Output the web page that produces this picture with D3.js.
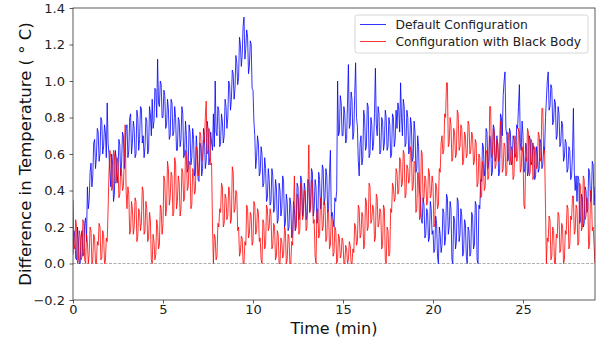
<!DOCTYPE html>
<html>
<head>
<meta charset="utf-8">
<script src="https://cdn.jsdelivr.net/npm/d3@7"></script>
<style>
  body { margin: 0; background: #fff; }
  svg { font-family: "DejaVu Sans", sans-serif; }
</style>
</head>
<body>
<svg id="chart" width="608" height="338"></svg>
<script>
// samples every 0.05 min (20 per minute)
const sampleStep = 0.05;

const defaultConfig = [
  0.05, 0.18, 0.15, 0.03, 0.02, 0.2, 0.12, 0.0, 0.0, 0.14,
  0.18, 0.04, 0.06, 0.22, 0.25, 0.12, 0.42, 0.3, 0.35, 0.5,
  0.55, 0.42, 0.48, 0.66, 0.68, 0.52, 0.58, 0.74, 0.72, 0.56,
  0.6, 0.8, 0.78, 0.6, 0.64, 0.76, 0.72, 0.58, 0.88, 0.66,
  0.6, 0.5, 0.42, 0.6, 0.55, 0.34, 0.38, 0.62, 0.58, 0.44,
  0.5, 0.68, 0.65, 0.48, 0.55, 0.72, 0.7, 0.52, 0.6, 0.74,
  0.76, 0.58, 0.62, 0.8, 0.82, 0.6, 0.66, 0.78, 0.74, 0.58,
  0.6, 0.84, 0.8, 0.62, 0.68, 0.86, 0.85, 0.66, 0.7, 0.58,
  0.64, 0.8, 0.78, 0.6, 0.62, 0.86, 0.82, 0.7, 0.9, 0.74,
  0.78, 0.96, 0.95, 0.8, 1.12, 0.88, 0.86, 1.0, 0.98, 0.8,
  0.8, 0.95, 0.92, 0.74, 0.76, 0.9, 0.85, 0.68, 0.7, 0.9,
  0.88, 0.7, 0.72, 0.86, 0.8, 0.62, 0.62, 0.8, 0.78, 0.64,
  0.68, 0.86, 0.82, 0.58, 0.6, 0.78, 0.7, 0.5, 0.52, 0.76,
  0.72, 0.54, 0.58, 0.74, 0.68, 0.48, 0.5, 0.7, 0.62, 0.46,
  0.45, 0.66, 0.64, 0.48, 0.52, 0.74, 0.7, 0.52, 0.56, 0.78,
  0.74, 0.54, 0.58, 0.72, 0.66, 0.62, 0.82, 0.64, 1.0, 0.72,
  0.7, 0.86, 0.84, 0.64, 0.66, 0.82, 0.78, 0.66, 0.7, 0.9,
  0.86, 0.74, 0.8, 1.0, 0.98, 0.84, 0.9, 1.06, 1.04, 0.9,
  0.96, 1.14, 1.1, 0.98, 1.02, 1.24, 1.2, 1.08, 1.14, 1.3,
  1.35, 1.12, 1.18, 1.28, 1.24, 1.04, 1.08, 1.22, 1.2, 0.96,
  0.95, 0.78, 0.7, 0.52, 0.58, 0.7, 0.66, 0.48, 0.5, 0.64,
  0.6, 0.42, 0.44, 0.58, 0.52, 0.34, 0.36, 0.52, 0.46, 0.32,
  0.34, 0.52, 0.48, 0.28, 0.3, 0.46, 0.42, 0.22, 0.24, 0.44,
  0.4, 0.26, 0.3, 0.48, 0.45, 0.2, 0.22, 0.38, 0.34, 0.18,
  0.2, 0.36, 0.32, 0.14, 0.16, 0.34, 0.3, 0.18, 0.22, 0.44,
  0.42, 0.24, 0.28, 0.48, 0.46, 0.26, 0.3, 0.44, 0.4, 0.24,
  0.26, 0.46, 0.44, 0.28, 0.32, 0.52, 0.5, 0.26, 0.3, 0.46,
  0.42, 0.22, 0.24, 0.5, 0.46, 0.3, 0.34, 0.54, 0.52, 0.32,
  0.36, 0.52, 0.48, 0.28, 0.3, 0.5, 0.62, 0.26, 0.28, 0.24,
  0.2, 0.36, 0.34, 0.4, 1.0, 0.7, 0.72, 0.92, 0.88, 0.7,
  0.7, 0.86, 0.82, 0.66, 0.68, 0.88, 1.09, 0.74, 0.76, 0.94,
  0.9, 0.68, 0.72, 0.92, 1.1, 0.8, 0.75, 0.56, 0.48, 0.66,
  0.7, 0.54, 0.58, 0.84, 0.8, 0.62, 0.64, 0.88, 0.86, 0.58,
  0.6, 0.8, 0.76, 0.62, 0.66, 0.82, 1.07, 0.76, 0.7, 0.86,
  0.82, 0.6, 0.62, 0.8, 0.78, 0.62, 0.66, 0.84, 0.8, 0.62,
  0.64, 0.8, 0.76, 0.58, 0.6, 0.82, 0.8, 0.64, 0.68, 0.84,
  0.74, 0.88, 0.84, 0.72, 0.99, 0.8, 0.7, 0.9, 0.86, 0.64,
  0.66, 0.84, 0.8, 0.6, 0.62, 0.8, 0.76, 0.56, 0.58, 0.78,
  0.72, 0.5, 0.52, 0.7, 0.64, 0.4, 0.36, 0.24, 0.22, 0.36,
  0.32, 0.14, 0.16, 0.3, 0.28, 0.12, 0.14, 0.34, 0.3, 0.16,
  0.18, 0.06, 0.08, 0.26, 0.22, 0.04, 0.0, 0.2, 0.16, 0.06,
  0.1, 0.3, 0.28, 0.1, 0.14, 0.38, 0.36, 0.16, 0.2, 0.34,
  0.3, 0.02, 0.0, 0.26, 0.24, 0.08, 0.12, 0.36, 0.34, 0.12,
  0.16, 0.3, 0.26, 0.04, 0.06, 0.24, 0.22, 0.04, 0.0, 0.2,
  0.18, 0.04, 0.06, 0.28, 0.26, 0.08, 0.1, 0.34, 0.32, 0.02,
  0.0, 0.32, 0.3, 0.46, 0.45, 0.66, 0.64, 0.48, 0.52, 0.74,
  0.72, 0.52, 0.56, 0.7, 0.68, 0.48, 0.5, 0.76, 0.74, 0.56,
  0.58, 0.7, 0.64, 0.48, 0.5, 0.82, 0.8, 0.7, 0.92, 1.0,
  1.05, 0.74, 0.7, 0.56, 0.58, 0.74, 0.72, 0.54, 0.56, 0.7,
  0.68, 0.58, 0.6, 0.76, 0.74, 0.86, 0.98, 0.66, 0.62, 0.78,
  0.7, 0.5, 0.52, 0.66, 0.64, 0.48, 0.5, 0.7, 0.68, 0.54,
  0.56, 0.66, 0.62, 0.46, 0.48, 0.64, 0.6, 0.5, 0.52, 0.68,
  0.66, 0.52, 0.54, 0.64, 0.62, 0.8, 0.9, 1.0, 1.05, 0.84,
  0.86, 0.98, 0.96, 0.76, 0.78, 0.9, 0.88, 0.68, 0.7, 0.86,
  0.82, 0.64, 0.66, 0.78, 0.76, 0.56, 0.58, 0.68, 0.66, 0.5,
  0.52, 0.64, 0.62, 0.46, 0.48, 0.6, 0.85, 0.5, 0.4, 0.48,
  0.34, 0.48, 0.46, 0.22, 0.24, 0.38, 0.36, 0.2, 0.22, 0.42,
  0.4, 0.28, 0.3, 0.52, 0.5, 0.34, 0.36, 0.56, 0.54, 0.32,
  0.42
];

const blackBody = [
  0.35, 0.1, 0.08, 0.24, 0.2, 0.0, 0.02, 0.18, 0.15, 0.02,
  0.04, 0.24, 0.22, 0.02, 0.0, 0.16, 0.12, 0.0, 0.05, 0.2,
  0.18, 0.0, 0.02, 0.16, 0.14, 0.0, 0.0, 0.12, 0.1, 0.22,
  0.2, 0.02, 0.03, 0.18, 0.16, 0.0, 0.01, 0.14, 0.12, 0.3,
  0.5, 0.62, 0.58, 0.4, 0.42, 0.62, 0.6, 0.44, 0.45, 0.58,
  0.55, 0.36, 0.38, 0.52, 0.5, 0.4, 0.42, 0.58, 0.76, 0.4,
  0.3, 0.42, 0.38, 0.16, 0.18, 0.34, 0.3, 0.16, 0.2, 0.36,
  0.34, 0.12, 0.15, 0.3, 0.28, 0.18, 0.22, 0.42, 0.4, 0.16,
  0.18, 0.34, 0.3, 0.12, 0.14, 0.28, 0.24, 0.02, 0.0, 0.16,
  0.12, 0.02, 0.05, 0.24, 0.2, 0.08, 0.1, 0.32, 0.3, 0.16,
  0.22, 0.48, 0.45, 0.26, 0.3, 0.56, 0.52, 0.32, 0.36, 0.5,
  0.48, 0.26, 0.28, 0.58, 0.55, 0.3, 0.34, 0.48, 0.44, 0.26,
  0.3, 0.52, 0.5, 0.34, 0.36, 0.62, 0.6, 0.4, 0.42, 0.56,
  0.54, 0.3, 0.32, 0.52, 0.5, 0.38, 0.4, 0.64, 0.62, 0.48,
  0.52, 0.72, 0.7, 0.56, 0.58, 0.68, 0.66, 0.8, 0.89, 0.6,
  0.62, 0.74, 0.72, 0.54, 0.55, 0.2, 0.0, 0.16, 0.14, 0.02,
  0.04, 0.22, 0.2, 0.3, 0.28, 0.44, 0.42, 0.2, 0.22, 0.38,
  0.36, 0.24, 0.26, 0.42, 0.4, 0.22, 0.24, 0.53, 0.5, 0.28,
  0.3, 0.4, 0.38, 0.18, 0.2, 0.04, 0.06, 0.15, 0.14, 0.0,
  0.0, 0.12, 0.1, 0.32, 0.3, 0.14, 0.16, 0.28, 0.26, 0.1,
  0.12, 0.34, 0.32, 0.16, 0.18, 0.3, 0.28, 0.12, 0.14, 0.02,
  0.0, 0.24, 0.22, 0.08, 0.1, 0.32, 0.3, 0.18, 0.2, 0.3,
  0.26, 0.08, 0.1, 0.22, 0.2, 0.02, 0.04, 0.18, 0.16, 0.0,
  0.0, 0.14, 0.12, 0.03, 0.05, 0.2, 0.18, 0.0, 0.02, 0.16,
  0.14, 0.0, 0.0, 0.12, 0.1, 0.3, 0.48, 0.18, 0.2, 0.38,
  0.36, 0.16, 0.18, 0.44, 0.42, 0.24, 0.26, 0.4, 0.38, 0.18,
  0.2, 0.4, 0.65, 0.28, 0.3, 0.46, 0.44, 0.22, 0.24, 0.04,
  0.0, 0.28, 0.3, 0.14, 0.16, 0.36, 0.34, 0.18, 0.2, 0.34,
  0.32, 0.12, 0.14, 0.3, 0.28, 0.08, 0.1, 0.26, 0.24, 0.04,
  0.06, 0.2, 0.18, 0.0, 0.02, 0.16, 0.14, 0.03, 0.05, 0.14,
  0.12, 0.0, 0.0, 0.1, 0.08, 0.0, 0.02, 0.12, 0.1, 0.0,
  0.0, 0.08, 0.06, 0.22, 0.2, 0.1, 0.12, 0.32, 0.3, 0.14,
  0.16, 0.28, 0.26, 0.08, 0.1, 0.36, 0.34, 0.18, 0.2, 0.44,
  0.42, 0.22, 0.24, 0.32, 0.3, 0.12, 0.14, 0.38, 0.36, 0.2,
  0.22, 0.3, 0.28, 0.08, 0.1, 0.32, 0.3, 0.02, 0.0, 0.2,
  0.18, 0.04, 0.06, 0.3, 0.28, 0.44, 0.42, 0.34, 0.36, 0.52,
  0.5, 0.38, 0.4, 0.58, 0.56, 0.42, 0.44, 0.62, 0.6, 0.36,
  0.38, 0.54, 0.52, 0.44, 0.46, 0.64, 0.62, 0.4, 0.42, 0.56,
  0.55, 0.28, 0.3, 0.5, 0.48, 0.24, 0.26, 0.62, 0.6, 0.34,
  0.36, 0.48, 0.46, 0.32, 0.34, 0.52, 0.5, 0.36, 0.38, 0.48,
  0.44, 0.2, 0.22, 0.44, 0.42, 0.3, 0.32, 0.52, 0.5, 0.66,
  0.7, 0.6, 0.62, 0.82, 0.8, 0.99, 0.99, 0.64, 0.66, 0.8,
  0.76, 0.56, 0.58, 0.74, 0.72, 0.58, 0.6, 0.84, 0.82, 0.62,
  0.64, 0.76, 0.74, 0.54, 0.56, 0.72, 0.7, 0.58, 0.6, 0.78,
  0.76, 0.6, 0.62, 0.72, 0.7, 0.54, 0.56, 0.68, 0.66, 0.42,
  0.44, 0.6, 0.58, 0.36, 0.37, 0.56, 0.54, 0.4, 0.42, 0.62,
  0.6, 0.46, 0.48, 0.86, 0.86, 0.58, 0.6, 0.74, 0.72, 0.52,
  0.54, 0.68, 0.66, 0.56, 0.58, 0.78, 0.76, 0.5, 0.52, 0.66,
  0.64, 0.48, 0.5, 0.72, 0.7, 0.54, 0.56, 0.64, 0.62, 0.46,
  0.48, 0.7, 0.68, 0.56, 0.58, 0.74, 0.72, 0.5, 0.52, 0.64,
  0.6, 0.32, 0.3, 0.58, 0.56, 0.74, 0.72, 0.48, 0.5, 0.68,
  0.66, 0.46, 0.48, 0.64, 0.62, 0.52, 0.54, 0.72, 0.7, 0.56,
  0.58, 0.85, 0.85, 0.6, 0.62, 0.3, 0.0, 0.14, 0.12, 0.26,
  0.24, 0.02, 0.04, 0.2, 0.18, 0.0, 0.0, 0.16, 0.14, 0.28,
  0.26, 0.06, 0.08, 0.22, 0.2, 0.0, 0.02, 0.18, 0.16, 0.32,
  0.3, 0.08, 0.1, 0.26, 0.24, 0.37, 0.37, 0.16, 0.18, 0.32,
  0.3, 0.1, 0.12, 0.44, 0.42, 0.18, 0.2, 0.48, 0.46, 0.24,
  0.26, 0.36, 0.34, 0.08, 0.1, 0.4, 0.38, 0.18, 0.2, 0.1,
  0.0
];

const xTicks = [0, 5, 10, 15, 20, 25];
const yTicks = [-0.2, 0.0, 0.2, 0.4, 0.6, 0.8, 1.0, 1.2, 1.4];

const series = [
  {name: "Default Configuration", values: defaultConfig, color: "#0000ff"},
  {name: "Configuration with Black Body", values: blackBody, color: "#ff0000"}
];

let svg = d3.select("#chart");
let margin = {top: 8, right: 13, bottom: 38, left: 73},
    width = +svg.attr("width") - margin.left - margin.right,
    height = +svg.attr("height") - margin.top - margin.bottom,
    g = svg.append("g").attr("transform", "translate(" + margin.left + "," + margin.top + ")");

let x = d3.scaleLinear().domain([0, 29]).range([0, width]);
let y = d3.scaleLinear().domain([-0.2, 1.4]).range([height, 0]);

g.append("defs").append("clipPath").attr("id", "plotClip")
  .append("rect").attr("width", width).attr("height", height);

// zero reference
g.append("line")
  .attr("x1", 0).attr("x2", width)
  .attr("y1", y(0)).attr("y2", y(0))
  .attr("stroke", "#999")
  .attr("stroke-width", 0.8)
  .attr("stroke-dasharray", "3,1.5");

let line = d3.line()
  .x((d, i) => x(i * sampleStep))
  .y(d => y(d));

let plot = g.append("g").attr("clip-path", "url(#plotClip)");
for (let s of series) {
  plot.append("path")
    .datum(s.values)
    .attr("fill", "none")
    .attr("stroke", s.color)
    .attr("stroke-width", 0.8)
    .attr("d", line);
}

// axes
let xAxis = g.append("g")
  .attr("transform", "translate(0," + height + ")")
  .call(d3.axisBottom(x).tickValues(xTicks).tickSize(3.5).tickPadding(1).tickFormat(d3.format("d")));
let yAxis = g.append("g")
  .call(d3.axisLeft(y).tickValues(yTicks).tickSize(3.5).tickPadding(4.5).tickFormat(d => d3.format(".1f")(d).replace("-", "\u2212")));

for (let ax of [xAxis, yAxis]) {
  ax.select(".domain").remove();
  ax.selectAll(".tick line").attr("stroke", "#333").attr("stroke-width", 0.8);
  ax.selectAll(".tick text").attr("fill", "#222").style("font-size", "13px").style("font-family", "DejaVu Sans");
}

// frame
g.append("rect")
  .attr("width", width).attr("height", height)
  .attr("fill", "none")
  .attr("stroke", "#333")
  .attr("stroke-width", 0.8);

// axis labels
svg.append("text")
  .attr("x", margin.left + width / 2)
  .attr("y", 334)
  .attr("text-anchor", "middle")
  .style("font-size", "16px")
  .attr("fill", "#111")
  .text("Time (min)");

svg.append("text")
  .attr("transform", "translate(31," + (margin.top + height / 2) + ") rotate(-90)")
  .attr("text-anchor", "middle")
  .style("font-size", "16.5px")
  .attr("fill", "#111")
  .text("Difference in Temperature ( \u00b0 C)");

// legend
let legend = svg.append("g").attr("transform", "translate(355,15)");
legend.append("rect")
  .attr("width", 233).attr("height", 38)
  .attr("rx", 2.5)
  .attr("fill", "#fff").attr("fill-opacity", 0.8)
  .attr("stroke", "#ccc").attr("stroke-width", 0.8);
series.forEach((s, i) => {
  let yy = 9.5 + i * 17;
  legend.append("line")
    .attr("x1", 5).attr("x2", 31)
    .attr("y1", yy).attr("y2", yy)
    .attr("stroke", s.color).attr("stroke-width", 0.8);
  legend.append("text")
    .attr("x", 40.5).attr("y", yy + 4.3)
    .style("font-size", "12.3px")
    .attr("fill", "#222")
    .text(s.name);
});
</script>
</body>
</html>
